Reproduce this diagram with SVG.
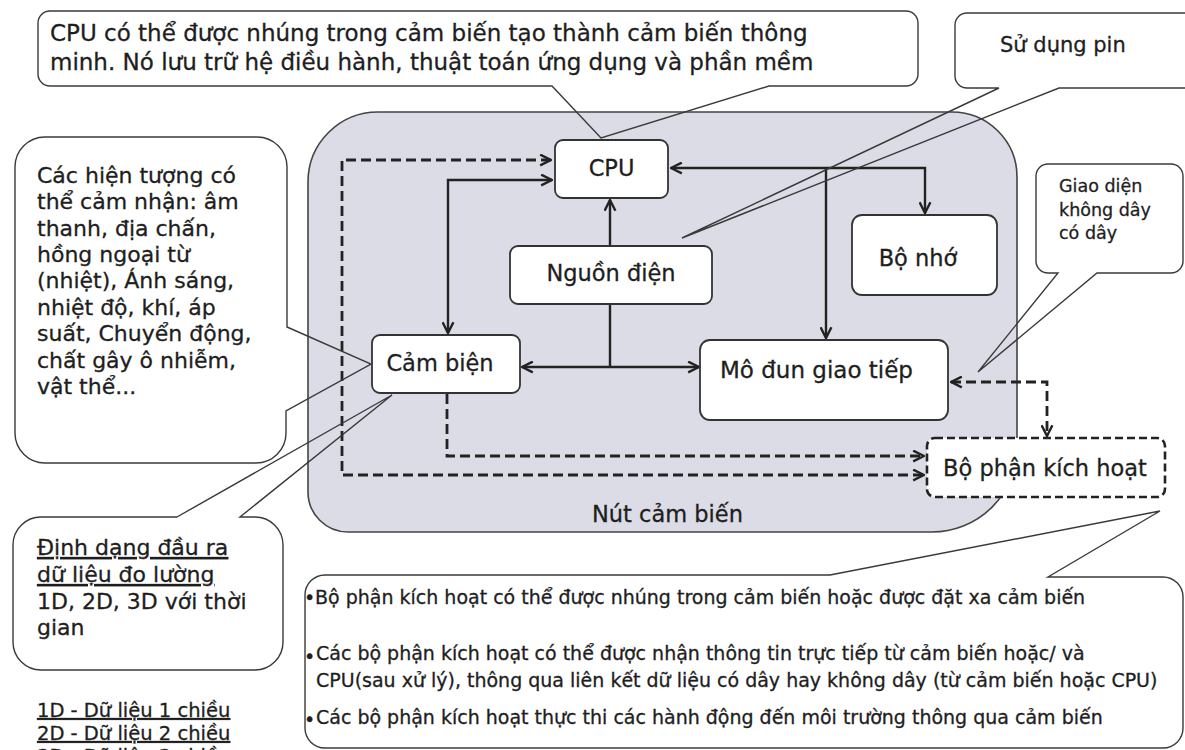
<svg xmlns="http://www.w3.org/2000/svg" width="1185" height="750" viewBox="0 0 1185 750">
<defs>
<marker id="arr" viewBox="0 0 12 12" refX="11" refY="6" markerWidth="13" markerHeight="13" markerUnits="userSpaceOnUse" orient="auto-start-reverse">
<path d="M1,1 L11,6 L1,11" fill="none" stroke="#222" stroke-width="2.2"/>
</marker>
</defs>
<style>
text{font-family:"DejaVu Sans","Liberation Sans",sans-serif;fill:#1e1e1e;stroke:#1e1e1e;stroke-width:0.3}
.node rect{fill:#fff;stroke:#333;stroke-width:1.8}
.node .dashed{stroke-dasharray:8 4;stroke-width:2.6;stroke:#222}
.nt{font-size:22.5px;text-anchor:middle}
.conn path{fill:none;stroke:#222;stroke-width:2.4}
.conn .dash{stroke-dasharray:10 5;stroke-width:2.8}
.cbox{fill:#fff;stroke:none}
.cline{fill:none;stroke:#3a3a3a;stroke-width:1.4}
.ct{font-size:22px}
.bt{font-size:19px}
.u{text-decoration:underline}
.lg{font-size:19.5px}
</style>
<rect width="1185" height="750" fill="#fff"/>

<g id="nut-cam-bien">
<path d="M378,112 H952 A65 65 0 0 1 1017,177 V447 A85 85 0 0 1 932,532 H348 A40 40 0 0 1 308,492 V182 A70 70 0 0 1 378,112 Z" fill="#dcdce6" stroke="#444" stroke-width="1.6"/>
<text x="592" y="522" style="font-size:22.5px">Nút cảm biến</text>
</g>

<g id="connectors" class="conn">
<path d="M826,168 H671" marker-end="url(#arr)"/>
<path d="M826,168 H925 V213" marker-end="url(#arr)"/>
<path d="M826,168 V338" marker-end="url(#arr)"/>
<path d="M610,246 V200" marker-end="url(#arr)"/>
<path d="M610,304 V367"/>
<path d="M522,367 H699" marker-start="url(#arr)" marker-end="url(#arr)"/>
<path d="M552,180 H448 V333" marker-start="url(#arr)" marker-end="url(#arr)"/>
<path class="dash" d="M551,160 H342 V475 H924" marker-start="url(#arr)" marker-end="url(#arr)"/>
<path class="dash" d="M447,394 V456 H924" marker-end="url(#arr)"/>
<path class="dash" d="M951,382 H1047 V436" marker-start="url(#arr)" marker-end="url(#arr)"/>
</g>

<g id="cpu" class="node">
<rect x="555" y="140" width="113" height="58" rx="8"/>
<text class="nt" x="611.5" y="176">CPU</text>
</g>
<g id="nguon-dien" class="node">
<rect x="510" y="246" width="202" height="58" rx="8"/>
<text class="nt" x="611" y="281">Nguồn điện</text>
</g>
<g id="cam-bien" class="node">
<rect x="372" y="335" width="148" height="58" rx="8"/>
<text class="nt" x="440" y="371">Cảm biện</text>
</g>
<g id="bo-nho" class="node">
<rect x="852" y="215" width="145" height="80" rx="10"/>
<text class="nt" x="918" y="266">Bộ nhớ</text>
</g>
<g id="mo-dun-giao-tiep" class="node">
<rect x="700" y="340" width="248" height="80" rx="10"/>
<text x="720" y="378" style="font-size:23px">Mô đun giao tiếp</text>
</g>
<g id="bo-phan-kich-hoat" class="node">
<rect class="dashed" x="927" y="438" width="238" height="59" rx="8"/>
<text class="nt" x="1045" y="476">Bộ phận kích hoạt</text>
</g>

<g id="callout-cpu">
<rect class="cbox" x="38" y="11" width="880" height="75" rx="12"/>
<path class="cline" d="M552,86 H50 A12 12 0 0 1 38,74 V23 A12 12 0 0 1 50,11 H906 A12 12 0 0 1 918,23 V74 A12 12 0 0 1 906,86 H769 L601,138 Z"/>
<text x="50" y="41" style="font-size:23px">CPU có thể được nhúng trong cảm biến tạo thành cảm biến thông</text>
<text x="50" y="70" style="font-size:23px">minh. Nó lưu trữ hệ điều hành, thuật toán ứng dụng và phần mềm</text>
</g>

<g id="callout-pin">
<rect class="cbox" x="955" y="13" width="265" height="75" rx="12"/>
<path class="cline" d="M999,88 H967 A12 12 0 0 1 955,76 V25 A12 12 0 0 1 967,13 H1200 M1200,88 H1059 L682,238 L999,88"/>
<text x="1000" y="52" style="font-size:21px">Sử dụng pin</text>
</g>

<g id="callout-giao-dien">
<rect class="cbox" x="1036" y="164" width="147" height="109" rx="12"/>
<path class="cline" d="M1058,273 H1048 A12 12 0 0 1 1036,261 V176 A12 12 0 0 1 1048,164 H1171 A12 12 0 0 1 1183,176 V261 A12 12 0 0 1 1171,273 H1097 L978,372 Z"/>
<text x="1059" y="192" style="font-size:17.5px">Giao diện</text>
<text x="1059" y="216" style="font-size:17.5px">không dây</text>
<text x="1059" y="239" style="font-size:17.5px">có dây</text>
</g>

<g id="callout-hien-tuong">
<rect class="cbox" x="15" y="137" width="272" height="326" rx="30"/>
<path class="cline" d="M287,327 L371,364 L286,411 V433 A30 30 0 0 1 256,463 H45 A30 30 0 0 1 15,433 V167 A30 30 0 0 1 45,137 H257 A30 30 0 0 1 287,167 Z"/>
<text class="ct" x="37" y="183">Các hiện tượng có</text>
<text class="ct" x="37" y="209">thể cảm nhận: âm</text>
<text class="ct" x="37" y="236">thanh, địa chấn,</text>
<text class="ct" x="37" y="262">hồng ngoại từ</text>
<text class="ct" x="37" y="288">(nhiệt), Ánh sáng,</text>
<text class="ct" x="37" y="315">nhiệt độ, khí, áp</text>
<text class="ct" x="37" y="341">suất, Chuyển động,</text>
<text class="ct" x="37" y="368">chất gây ô nhiễm,</text>
<text class="ct" x="37" y="394">vật thể...</text>
</g>

<g id="callout-dinh-dang">
<rect class="cbox" x="13" y="517" width="270" height="153" rx="28"/>
<path class="cline" d="M177,517 L392,395 L240,517 H255 A28 28 0 0 1 283,545 V642 A28 28 0 0 1 255,670 H41 A28 28 0 0 1 13,642 V545 A28 28 0 0 1 41,517 Z"/>
<text class="ct u" x="37" y="555">Định dạng đầu ra</text>
<text class="ct u" x="37" y="582">dữ liệu đo lường</text>
<text class="ct" x="37" y="609">1D, 2D, 3D với thời</text>
<text class="ct" x="37" y="635">gian</text>
</g>

<g id="chu-thich-1d-3d">
<text class="u lg" x="37" y="717">1D - Dữ liệu 1 chiều</text>
<text class="u lg" x="37" y="740">2D - Dữ liệu 2 chiều</text>
<text class="u lg" x="37" y="763">3D - Dữ liệu 3 chiều</text>
</g>

<g id="callout-kich-hoat">
<rect class="cbox" x="305" y="575" width="878" height="173" rx="20"/>
<path class="cline" d="M830,575 L1160,511 L1048,577 H1163 A20 20 0 0 1 1183,597 V728 A20 20 0 0 1 1163,748 H325 A20 20 0 0 1 305,728 V595 A20 20 0 0 1 325,575 Z"/>
<text class="bt" x="304" y="604">•</text>
<text class="bt" x="315" y="604">Bộ phận kích hoạt có thể được nhúng trong cảm biến hoặc được đặt xa cảm biến</text>
<text class="bt" x="304" y="663">•</text>
<text class="bt" x="316" y="660">Các bộ phận kích hoạt có thể được nhận thông tin trực tiếp từ cảm biến hoặc/ và</text>
<text class="bt" x="316" y="687">CPU(sau xử lý), thông qua liên kết dữ liệu có dây hay không dây (từ cảm biến hoặc CPU)</text>
<text class="bt" x="304" y="726">•</text>
<text class="bt" x="316" y="724">Các bộ phận kích hoạt thực thi các hành động đến môi trường thông qua cảm biến</text>
</g>
</svg>
